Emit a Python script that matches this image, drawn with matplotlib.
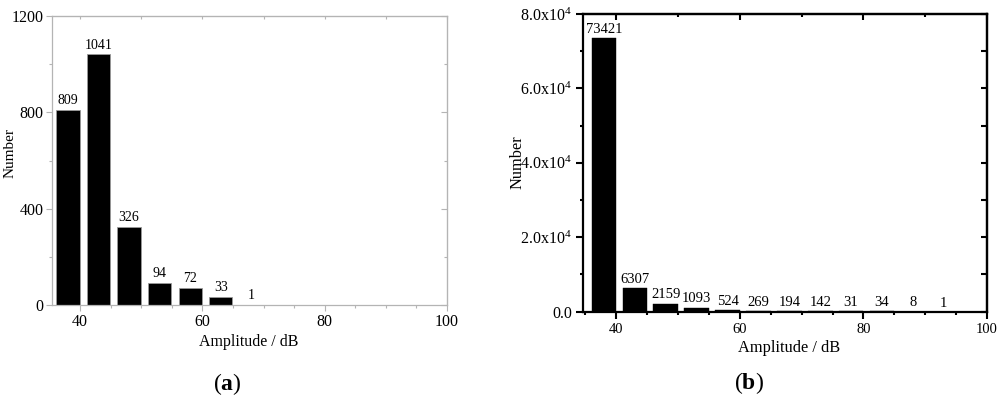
import matplotlib
matplotlib.use('Agg')
import matplotlib.pyplot as plt
from matplotlib.ticker import MultipleLocator, FixedLocator

plt.rcParams['font.family'] = ['Liberation Serif', 'DejaVu Serif']
plt.rcParams['mathtext.fontset'] = 'custom'
plt.rcParams['mathtext.rm'] = 'Liberation Serif'
plt.rcParams['mathtext.it'] = 'Liberation Serif:italic'
plt.rcParams['mathtext.bf'] = 'Liberation Serif:bold'

# ---- data ----
amp_a = [38, 43, 48, 53, 58, 63, 68]
count_a = [809, 1041, 326, 94, 72, 33, 1]
amp_b = [38, 43, 48, 53, 58, 63, 68, 73, 78, 83, 88, 93]
count_b = [73421, 6307, 2159, 1093, 524, 269, 194, 142, 31, 34, 8, 1]
x_ticks = [40, 60, 80, 100]
y_ticks_a = [0, 400, 800, 1200]
y_ticks_b = [0, 20000, 40000, 60000, 80000]
y_labels_b = ['0.0', '2.0x10$^4$', '4.0x10$^4$', '6.0x10$^4$', '8.0x10$^4$']
x_label = 'Amplitude / dB'
y_label = 'Number'

fig = plt.figure(figsize=(10, 4), dpi=100)
axa = fig.add_axes([0.052, 0.237, 0.395, 0.723])
axb = fig.add_axes([0.583, 0.221, 0.404, 0.744])

# ---- panel (a) ----
gray = '#b4b4b4'
axa.bar(amp_a, count_a, width=3.8, color='black', edgecolor='#9a9a9a', linewidth=0.6)
for x, v in zip(amp_a, count_a):
    axa.annotate(str(v), (x, v), xytext=(0, 2), textcoords='offset points',
                 ha='center', va='bottom', fontsize=10)
axa.set_xlim(35.4, 100)
axa.set_ylim(0, 1200)
axa.xaxis.set_major_locator(FixedLocator(x_ticks))
axa.xaxis.set_minor_locator(MultipleLocator(5))
axa.yaxis.set_major_locator(FixedLocator(y_ticks_a))
axa.yaxis.set_minor_locator(MultipleLocator(200))
for s in axa.spines.values():
    s.set_color(gray)
    s.set_linewidth(0.9)
axa.tick_params(which='both', direction='out', color=gray, labelsize=11.5, width=0.8)
axa.tick_params(which='major', length=4, pad=2)
axa.tick_params(which='minor', length=2)
sr = axa.secondary_yaxis('right')
sr.yaxis.set_major_locator(FixedLocator(y_ticks_a))
sr.yaxis.set_minor_locator(MultipleLocator(200))
sr.tick_params(which='both', direction='in', color=gray, labelright=False, width=0.8)
sr.tick_params(which='major', length=4)
sr.tick_params(which='minor', length=2)
sr.spines['right'].set_color(gray)
st = axa.secondary_xaxis('top')
st.xaxis.set_major_locator(FixedLocator(x_ticks))
st.xaxis.set_minor_locator(MultipleLocator(10))
st.tick_params(which='both', direction='in', color=gray, labeltop=False, width=0.8, length=2.5)
st.spines['top'].set_color(gray)

fig.text(0.249, 0.145, x_label, ha='center', va='center', fontsize=11.5)
fig.text(0.010, 0.617, y_label, ha='center', va='center', rotation=90, fontsize=11)
fig.text(0.227, 0.04, r'($\mathbf{a}$)', ha='center', va='center', fontsize=17)

# ---- panel (b) ----
axb.bar(amp_b, count_b, width=4.0, color='black', edgecolor='black', linewidth=0.3)
for x, v in zip(amp_b, count_b):
    axb.annotate(str(v), (x, v), xytext=(0, 1.5), textcoords='offset points',
                 ha='center', va='bottom', fontsize=10.5)
axb.set_xlim(34.6, 100)
axb.set_ylim(0, 80000)
axb.xaxis.set_major_locator(FixedLocator(x_ticks))
axb.xaxis.set_minor_locator(MultipleLocator(5))
axb.yaxis.set_major_locator(FixedLocator(y_ticks_b))
axb.set_yticklabels(y_labels_b)
axb.yaxis.set_minor_locator(MultipleLocator(10000))
for s in axb.spines.values():
    s.set_color('black')
    s.set_linewidth(1.6)
axb.tick_params(which='both', direction='out', color='black', labelsize=10.5, width=1.5)
axb.tick_params(axis='y', labelsize=11.5)
axb.tick_params(which='major', length=5, pad=3)
axb.tick_params(which='minor', length=2.5)
srb = axb.secondary_yaxis('right')
srb.yaxis.set_major_locator(FixedLocator(y_ticks_b))
srb.yaxis.set_minor_locator(MultipleLocator(10000))
srb.tick_params(which='both', direction='in', color='black', labelright=False, width=1.5, length=4)
srb.spines['right'].set_linewidth(1.6)
stb = axb.secondary_xaxis('top')
stb.xaxis.set_major_locator(FixedLocator(x_ticks))
stb.xaxis.set_minor_locator(MultipleLocator(10))
stb.tick_params(which='major', direction='in', length=4, width=1.5, labeltop=False)
stb.tick_params(which='minor', direction='in', length=2.5, width=1.5, labeltop=False)
stb.spines['top'].set_linewidth(1.6)

fig.text(0.789, 0.13, x_label, ha='center', va='center', fontsize=11.8)
fig.text(0.517, 0.595, y_label, ha='center', va='center', rotation=90, fontsize=11.8)
fig.text(0.749, 0.043, r'($\mathbf{b}$)', ha='center', va='center', fontsize=17)

fig.savefig('out.png', dpi=100)
